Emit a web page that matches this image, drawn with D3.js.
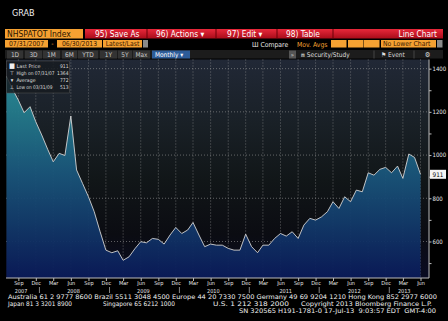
<!DOCTYPE html>
<html><head><meta charset="utf-8">
<script src="https://cdn.jsdelivr.net/npm/d3@7"></script>
<style>
html,body{margin:0;padding:0;background:#000;overflow:hidden}
svg{display:block}
text{font-family:"DejaVu Sans Condensed","DejaVu Sans",sans-serif}
</style></head><body>
<script>
// ---- data ----
const startMonth = "2007-07";
const endMonth = "2013-06";
const values = [1364,1306,1254,1196,1224,1154,1093,1027,969,1008,998,1181,
  931,869,807,738,645,560,548,557,513,529,566,599,
  594,614,610,588,630,665,637,653,688,630,576,588,
  583,583,568,560,560,634,576,548,583,583,614,637,
  625,645,614,676,707,699,714,738,784,753,807,784,
  838,830,918,907,934,943,918,949,892,1005,989,911];
const yTickValues = [1400,1200,1000,800,600];
const yMinorTicks = [500,600,700,800,900,1000,1100,1200,1300,1400];
const monthTickLabels = ["Mar","Jun","Sep","Dec"];
const yearLabels = [["2007","2007-09-15"],["2008","2008-06-15"],["2009","2009-06-15"],["2010","2010-06-15"],["2011","2011-06-28"],["2012","2012-06-20"],["2013","2013-03-08"]];
const legendRows = [["Last Price","911"],["High on 07/31/07","1364"],["Average","772"],["Low on 03/31/09","513"]];
const lastPrice = "911";
const footer1 = "Australia 61 2 9777 8600 Brazil 5511 3048 4500 Europe 44 20 7330 7500 Germany 49 69 9204 1210 Hong Kong 852 2977 6000";
const footer2a = "Japan 81 3 3201 8900", footer2b = "Singapore 65 6212 1000", footer2c = "U.S. 1 212 318 2000", footer2d = "Copyright 2013 Bloomberg Finance L.P.";
const footer3 = "SN 320565 H191-1781-0 17-Jul-13  9:03:57 EDT  GMT-4:00";

const W=448,H=321;
const parseM = d3.timeParse("%Y-%m");
const dates = d3.timeMonth.range(parseM(startMonth), d3.timeMonth.offset(parseM(endMonth),1));
const data = dates.map((d,i)=>({date:d,value:values[i]}));

const svg = d3.select("body").append("svg").attr("width",W).attr("height",H);
const defs = svg.append("defs");

// ---- header ----
svg.append("text").attr("x",12).attr("y",16).attr("fill","#f0f0f0").attr("font-size",9).text("GRAB");

const rg = defs.append("linearGradient").attr("id","redg").attr("x1",0).attr("x2",0).attr("y1",0).attr("y2",1);
rg.append("stop").attr("offset","0%").attr("stop-color","#e8283a");
rg.append("stop").attr("offset","100%").attr("stop-color","#a80c1a");
svg.append("rect").attr("x",5).attr("y",29).attr("width",78).attr("height",9.5).attr("fill","#f5a132");
svg.append("text").attr("x",7).attr("y",37).attr("font-size",8.5).attr("fill","#2a1400").text("NHSPATOT Index");
svg.append("rect").attr("x",85).attr("y",29).attr("width",358).attr("height",9.5).attr("fill","url(#redg)");
[[147],[216],[277],[333]].forEach(d=>svg.append("line").attr("x1",d[0]).attr("x2",d[0]).attr("y1",29).attr("y2",38.5).attr("stroke","#6a0008"));
const redTexts=[["95) Save As",95],["96) Actions \u25BE",156],["97) Edit \u25BE",227],["98) Table",286]];
redTexts.forEach(t=>svg.append("text").attr("x",t[1]).attr("y",37).attr("font-size",8.3).attr("fill","#fff").text(t[0]));
svg.append("text").attr("x",437).attr("y",37).attr("text-anchor","end").attr("font-size",8.3).attr("fill","#fff").text("Line Chart");

// row 2
const orangeBoxes=[[5,43,"07/31/2007"],[57,45,"06/30/2013"],[103,39,"Latest/Last"]];
orangeBoxes.forEach(b=>{
  svg.append("rect").attr("x",b[0]).attr("y",40).attr("width",b[1]).attr("height",7.5).attr("fill","#f5a132");
  svg.append("text").attr("x",b[0]+b[1]/2).attr("y",46.3).attr("text-anchor","middle").attr("font-size",6.8).attr("fill","#3a1800").text(b[2]);
});
svg.append("text").attr("x",52.5).attr("y",46.3).attr("text-anchor","middle").attr("font-size",7).attr("fill","#f5a132").text("-");
svg.append("rect").attr("x",143).attr("y",40).attr("width",5).attr("height",7.5).attr("fill","#8a8a8a");
svg.append("text").attr("x",252).attr("y",46.5).attr("font-size",6.8).attr("fill","#e8e8e8").text("\u0428 Compare");
svg.append("text").attr("x",297).attr("y",46.5).attr("font-size",6.8).attr("fill","#f5a132").text("Mov. Avgs");
[331,348,364].forEach(x=>svg.append("rect").attr("x",x).attr("y",40).attr("width",15.5).attr("height",7.5).attr("fill","#f5a132"));
svg.append("rect").attr("x",381).attr("y",40).attr("width",55).attr("height",7.5).attr("fill","#f5a132");
svg.append("text").attr("x",383).attr("y",46.3).attr("font-size",6.8).attr("fill","#3a1800").text("No Lower Chart");
svg.append("rect").attr("x",437).attr("y",40).attr("width",5.5).attr("height",7.5).attr("fill","#8a8a8a");

// row 3
svg.append("rect").attr("x",5).attr("y",50).attr("width",438).attr("height",8.5).attr("fill","#1c1c1c");
const btns=[[7,16,"1D"],[25,17,"3D"],[43,17,"1M"],[62,15,"6M"],[78,20,"YTD"],[100,17,"1Y"],[118,14,"5Y"],[133,17,"Max"]];
btns.forEach(b=>{
  svg.append("rect").attr("x",b[0]).attr("y",50.5).attr("width",b[1]).attr("height",8).attr("fill","#333333");
  svg.append("text").attr("x",b[0]+b[1]/2).attr("y",57).attr("text-anchor","middle").attr("font-size",6.5).attr("fill","#c8c8c8").text(b[2]);
});
svg.append("rect").attr("x",152).attr("y",50.5).attr("width",38).attr("height",8).attr("fill","#2d5c99");
svg.append("text").attr("x",155).attr("y",57).attr("font-size",6.5).attr("fill","#fff").text("Monthly \u25BE");
svg.append("rect").attr("x",289).attr("y",50.5).attr("width",7).attr("height",8).attr("fill","#555");
svg.append("text").attr("x",292.5).attr("y",57).attr("text-anchor","middle").attr("font-size",6).attr("fill","#ddd").text("\u00BB");
svg.append("text").attr("x",301).attr("y",57).attr("font-size",6.5).attr("fill","#ddd").text("\u2A4E  Security/Study");
svg.append("line").attr("x1",374).attr("x2",374).attr("y1",50.5).attr("y2",58.5).attr("stroke","#444");
svg.append("text").attr("x",381).attr("y",57).attr("font-size",6.5).attr("fill","#ddd").text("\u2691 Event");
svg.append("line").attr("x1",414).attr("x2",414).attr("y1",50.5).attr("y2",58.5).attr("stroke","#444");
svg.append("text").attr("x",427.5).attr("y",57).attr("text-anchor","middle").attr("font-size",7).attr("fill","#ddd").text("\u2699");

// ---- chart ----
const L=6,R=429,T=59.5,B=278;
const x = d3.scaleTime().domain([dates[0],dates[dates.length-1]]).range([6.5,420.5]);
const y = d3.scaleLinear().domain([431,1440]).range([B,60]);

const bg = defs.append("linearGradient").attr("id","bgg").attr("gradientUnits","userSpaceOnUse").attr("x1",0).attr("x2",0).attr("y1",T).attr("y2",B);
[["0%","#212836"],["30%","#192026"],["55%","#111618"],["80%","#0b0c12"],["100%","#090b22"]].forEach(s=>bg.append("stop").attr("offset",s[0]).attr("stop-color",s[1]));
svg.append("rect").attr("x",L).attr("y",T).attr("width",R-L).attr("height",B-T).attr("fill","url(#bgg)");

const ag = defs.append("linearGradient").attr("id","ag").attr("gradientUnits","userSpaceOnUse").attr("x1",0).attr("x2",0).attr("y1",T).attr("y2",B);
[["0%","#2c949f"],["25%","#23798a"],["50%","#1a587c"],["75%","#123a6a"],["100%","#0a1a58"]].forEach(s=>ag.append("stop").attr("offset",s[0]).attr("stop-color",s[1]));

// grid
const qTicks = d3.timeMonth.range(dates[0],d3.timeMonth.offset(dates[dates.length-1],1)).filter(d=>[2,5,8,11].includes(d.getMonth()));
const grid = svg.append("g");
grid.selectAll("line.v").data(qTicks).join("line").attr("x1",d=>x(d)).attr("x2",d=>x(d)).attr("y1",T).attr("y2",B)
  .attr("stroke","#9a9a9a").attr("stroke-width",0.6).attr("stroke-dasharray","1,2");
grid.selectAll("line.h").data(yTickValues).join("line").attr("x1",L).attr("x2",R).attr("y1",d=>y(d)).attr("y2",d=>y(d))
  .attr("stroke","#9a9a9a").attr("stroke-width",0.6).attr("stroke-dasharray","1,2");

// area + line
const area = d3.area().x(d=>x(d.date)).y0(B).y1(d=>y(d.value));
const line = d3.line().x(d=>x(d.date)).y(d=>y(d.value));
svg.append("path").datum(data).attr("d",area).attr("fill","url(#ag)").attr("opacity",0.95);
svg.append("path").datum(data).attr("d",line).attr("fill","none").attr("stroke","#d4d4d4").attr("stroke-width",0.9);

// right axis
const yAxis = d3.axisRight(y).tickValues(yMinorTicks).tickSize(2.5).tickFormat(d=>yTickValues.includes(d)?d:"");
const ya = svg.append("g").attr("transform",`translate(${R},0)`).call(yAxis);
ya.select(".domain").attr("stroke","#bbb").attr("d",`M0,${T}V${B}`);
ya.selectAll(".tick line").attr("stroke","#bbb");
ya.selectAll(".tick text").attr("fill","#e8e8e8").attr("font-size",6).attr("x",3.5).attr("font-family","DejaVu Sans Condensed");

// last price tag
const ly = y(values[values.length-1]);
svg.append("rect").attr("x",430).attr("y",ly-4.5).attr("width",16).attr("height",9).attr("fill","#f4f4f4");
svg.append("text").attr("x",438).attr("y",ly+2.3).attr("text-anchor","middle").attr("font-size",6.3).attr("fill","#000").text(lastPrice);

// bottom axis
const xAxis = d3.axisBottom(x).tickValues(qTicks).tickSize(3).tickFormat(d=>monthTickLabels[[2,5,8,11].indexOf(d.getMonth())]);
const xa = svg.append("g").attr("transform",`translate(0,${B})`).call(xAxis);
xa.select(".domain").attr("stroke","#bbb").attr("d",`M${L},0H${R}`);
xa.selectAll(".tick line").attr("stroke","#bbb");
xa.selectAll(".tick text").attr("fill","#e8e8e8").attr("font-size",5.5).attr("y",3.5);
const pd = d3.timeParse("%Y-%m-%d");
svg.selectAll("text.yr").data(yearLabels).join("text").attr("class","yr").attr("x",d=>x(pd(d[1]))).attr("y",292.5)
  .attr("text-anchor","middle").attr("font-size",5.5).attr("fill","#e8e8e8").text(d=>d[0]);
const yearSeps = ["2007-12-20","2008-12-20","2009-12-20","2010-12-20","2011-12-20","2012-12-20"];
svg.selectAll("line.ys").data(yearSeps).join("line").attr("x1",d=>x(pd(d))).attr("x2",d=>x(pd(d))).attr("y1",287).attr("y2",293).attr("stroke","#bbb").attr("stroke-width",0.7);

// legend
const lg = svg.append("g");
lg.append("rect").attr("x",6.5).attr("y",61).attr("width",63).attr("height",32).attr("fill","#161b20").attr("fill-opacity",0.85).attr("stroke","#555").attr("stroke-width",0.5);
const icons=["\u25A0","\u22A4","\u25BE","\u22A5"];
const labelLens=[24,38,19,36];
legendRows.forEach((r,i)=>{
  const yy=67.5+i*7.3;
  lg.append("text").attr("x",12).attr("y",yy).attr("text-anchor","middle").attr("font-size",i==0?7:5.5).attr("fill","#f0f0f0").text(icons[i]);
  lg.append("text").attr("x",16.5).attr("y",yy).attr("font-size",5).attr("fill","#dcdcdc")
    .attr("textLength",labelLens[i]).attr("lengthAdjust","spacingAndGlyphs").text(r[0]);
  lg.append("text").attr("x",68.5).attr("y",yy).attr("text-anchor","end").attr("font-size",5).attr("fill","#dcdcdc").text(r[1]);
});

// footer
const ff = "DejaVu Sans Mono";
svg.append("text").attr("x",8).attr("y",299).attr("font-family",ff).attr("font-size",6.3).attr("fill","#f0f0f0").attr("textLength",429).attr("lengthAdjust","spacingAndGlyphs").text(footer1);
[[8,footer2a,64],[103,footer2b,72],[213,footer2c,76],[301,footer2d,131]].forEach(f=>
  svg.append("text").attr("x",f[0]).attr("y",306).attr("font-family",ff).attr("font-size",6.3).attr("fill","#f0f0f0").attr("textLength",f[2]).attr("lengthAdjust","spacingAndGlyphs").text(f[1]));
svg.append("text").attr("x",239).attr("y",313).attr("font-family",ff).attr("font-size",6.3).attr("fill","#f0f0f0").attr("textLength",197).attr("lengthAdjust","spacingAndGlyphs").attr("xml:space","preserve").text(footer3);
</script>
</body></html>
